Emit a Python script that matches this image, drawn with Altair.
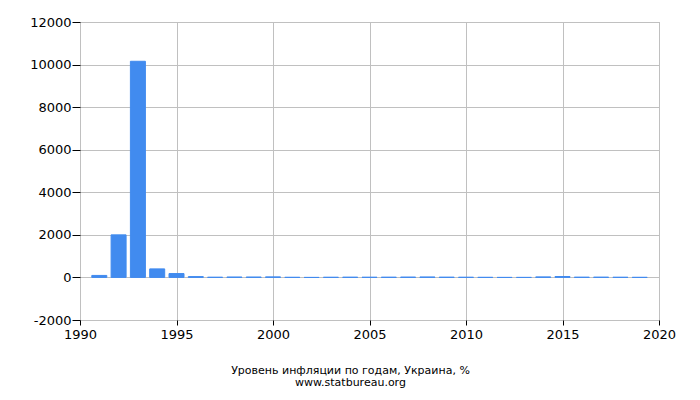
import altair as alt
import pandas as pd

years = list(range(1991, 2020))
inflation = [94.0, 2000.0, 10155.0, 401.1, 181.7, 39.7, 10.1, 20.0, 19.2, 25.8,
             6.1, -0.6, 8.2, 12.3, 10.3, 11.6, 16.6, 22.3, 12.3, 9.1,
             4.6, -0.2, 0.5, 24.9, 43.3, 12.4, 13.7, 9.8, 4.1]
title_lines = ["Уровень инфляции по годам, Украина, %", "www.statbureau.org"]

df = pd.DataFrame({"year": years, "value": inflation})

chart = alt.Chart(df).mark_bar(size=15, color="#418bef", stroke="#418bef", strokeWidth=1).encode(
    x=alt.X("year:Q", scale=alt.Scale(domain=[1990, 2020], nice=False, zero=False, padding=0),
            axis=alt.Axis(values=list(range(1990, 2021, 5)), format="d", title=None,
                          grid=True, gridColor="#c0c0c0", domain=False, labelFlush=False,
                          tickColor="black", tickSize=5, labelPadding=3,
                          labelFont="DejaVu Sans", labelFontSize=13, labelColor="black")),
    y=alt.Y("value:Q", scale=alt.Scale(domain=[-2000, 12000], nice=False, padding=0),
            axis=alt.Axis(values=list(range(-2000, 12001, 2000)), title=None,
                          labelExpr="'' + datum.value",
                          grid=True, gridColor="#c0c0c0", domain=False,
                          tickColor="black", tickSize=8, labelPadding=1,
                          labelFont="DejaVu Sans", labelFontSize=13, labelColor="black")),
).properties(
    width=579, height=298,
    autosize=alt.AutoSizeParams(type="none"),
    padding={"left": 72, "top": 14, "right": 33, "bottom": 76},
    title=alt.TitleParams(text=title_lines, orient="bottom", anchor="middle",
                          font="DejaVu Sans", fontSize=11, fontWeight="normal",
                          color="black", offset=24, dx=-19, lineHeight=12),
).configure_view(stroke="#a8a8a8", strokeWidth=1)

chart.save("out.html", embed_options={"renderer": "svg", "actions": False})
